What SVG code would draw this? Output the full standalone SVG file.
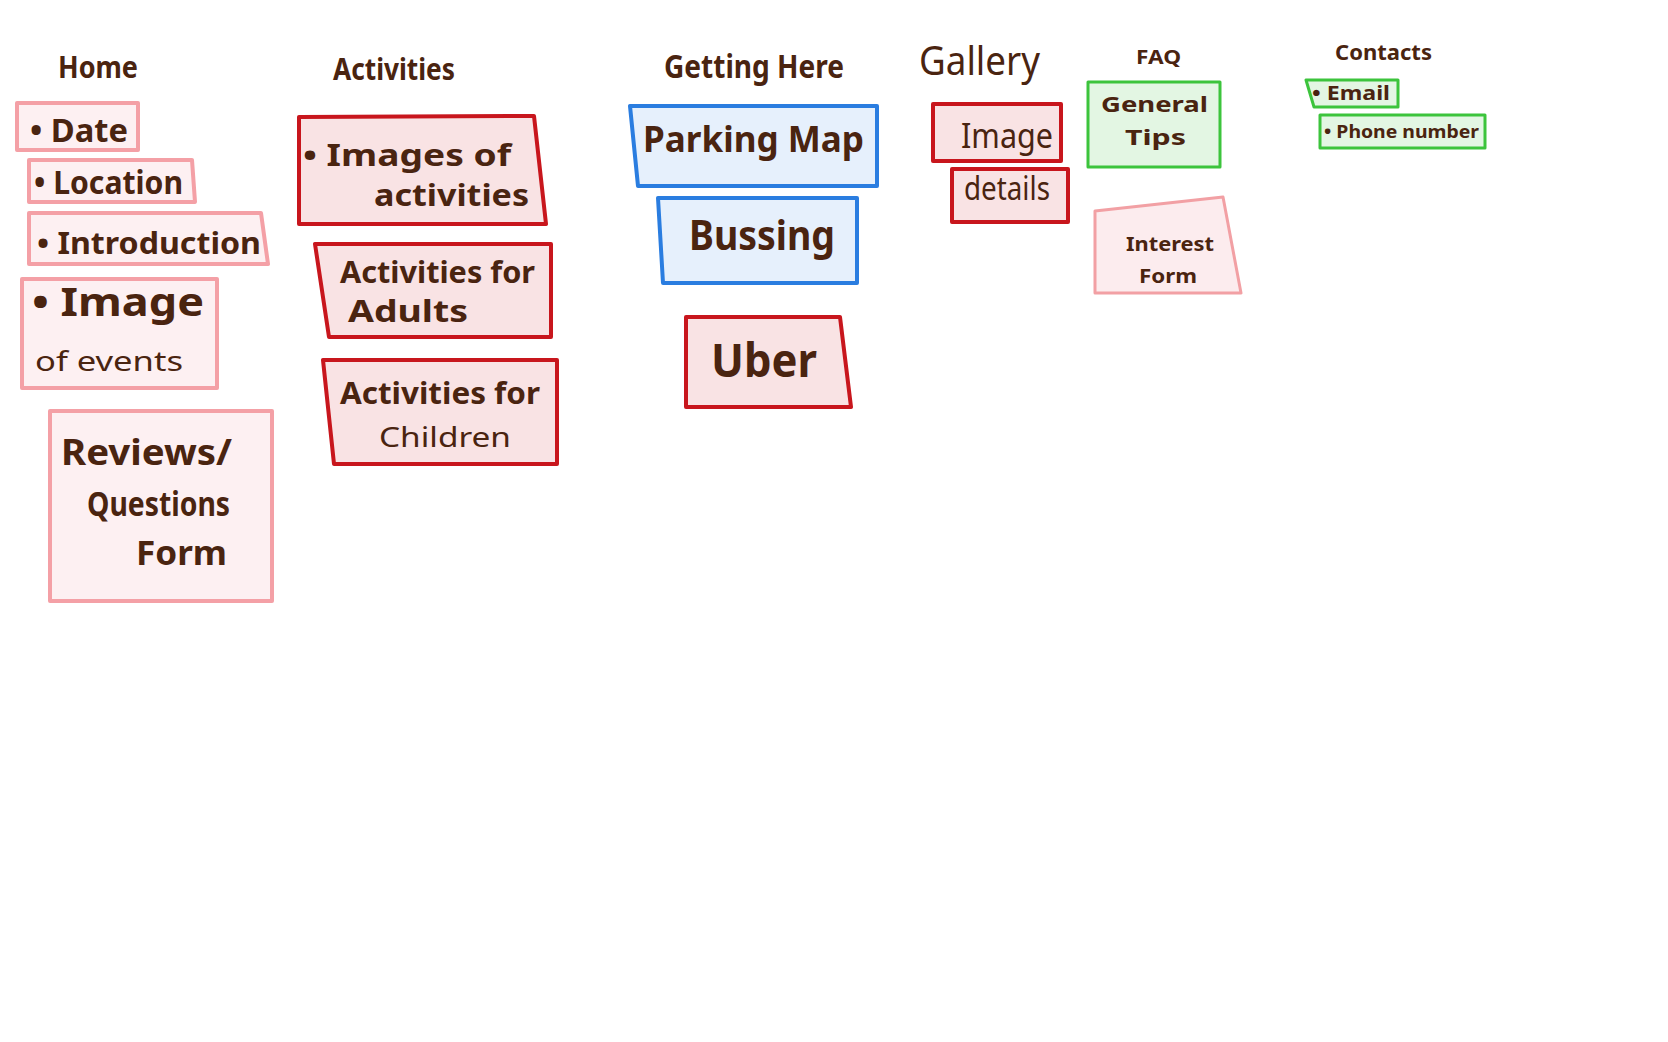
<svg xmlns="http://www.w3.org/2000/svg" width="1668" height="1042" viewBox="0 0 1668 1042">
<style>
  .pink { fill: #fdf0f2; stroke: #f4a0a6; stroke-width: 4; stroke-linejoin: round; }
  .red { fill: #f9e3e4; stroke: #c8161d; stroke-width: 4; stroke-linejoin: round; }
  .blue { fill: #e6f0fc; stroke: #2a7de0; stroke-width: 4; stroke-linejoin: round; }
  .green { fill: #e3f6e3; stroke: #3cc43c; stroke-width: 3; stroke-linejoin: round; }
  text { font-family: "Noto Sans", "Liberation Sans", sans-serif; fill: #4a2410; }
  .b { font-weight: bold; }
  .t { font-weight: normal; }
</style>
<rect width="1668" height="1042" fill="#ffffff"/>

<g id="home">
  <text x="58" y="78" font-size="30" class="b" textLength="80" lengthAdjust="spacingAndGlyphs">Home</text>
  <g id="home-date">
    <rect class="pink" x="17" y="103" width="121" height="47"/>
    <text x="30" y="142" font-size="32" class="b" textLength="98" lengthAdjust="spacingAndGlyphs">• Date</text>
  </g>
  <g id="home-location">
    <polygon class="pink" points="29,160 192,160 195,202 29,202"/>
    <text x="34" y="194" font-size="32" class="b" textLength="149" lengthAdjust="spacingAndGlyphs">• Location</text>
  </g>
  <g id="home-introduction">
    <polygon class="pink" points="29,213 261,213 268,264 29,264"/>
    <text x="37" y="254" font-size="31" class="b" textLength="224" lengthAdjust="spacingAndGlyphs">• Introduction</text>
  </g>
  <g id="home-image">
    <rect class="pink" x="22" y="279" width="195" height="109"/>
    <text x="32" y="316" font-size="40" class="b" textLength="172" lengthAdjust="spacingAndGlyphs">• Image</text>
    <text x="35" y="371" font-size="28" class="t" textLength="148" lengthAdjust="spacingAndGlyphs">of events</text>
  </g>
  <g id="home-reviews">
    <rect class="pink" x="50" y="411" width="222" height="190"/>
    <text x="61" y="465" font-size="36" class="b" textLength="171" lengthAdjust="spacingAndGlyphs">Reviews/</text>
    <text x="87" y="516" font-size="34" class="b" textLength="143" lengthAdjust="spacingAndGlyphs">Questions</text>
    <text x="136" y="565" font-size="34" class="b" textLength="91" lengthAdjust="spacingAndGlyphs">Form</text>
  </g>
</g>

<g id="activities">
  <text x="333" y="80" font-size="30" class="b" textLength="122" lengthAdjust="spacingAndGlyphs">Activities</text>
  <g id="act-images">
    <polygon class="red" points="299,117 534,116 546,224 299,224"/>
    <text x="303" y="166" font-size="30" class="b" textLength="208" lengthAdjust="spacingAndGlyphs">• Images of</text>
    <text x="374" y="206" font-size="30" class="b" textLength="155" lengthAdjust="spacingAndGlyphs">activities</text>
  </g>
  <g id="act-adults">
    <polygon class="red" points="315,244 551,244 551,337 329,337"/>
    <text x="340" y="283" font-size="30" class="b" textLength="195" lengthAdjust="spacingAndGlyphs">Activities for</text>
    <text x="348" y="322" font-size="30" class="b" textLength="120" lengthAdjust="spacingAndGlyphs">Adults</text>
  </g>
  <g id="act-children">
    <polygon class="red" points="323,360 557,360 557,464 334,464"/>
    <text x="340" y="404" font-size="30" class="b" textLength="200" lengthAdjust="spacingAndGlyphs">Activities for</text>
    <text x="379" y="447" font-size="28" class="t" textLength="132" lengthAdjust="spacingAndGlyphs">Children</text>
  </g>
</g>

<g id="getting-here">
  <text x="664" y="78" font-size="32" class="b" textLength="180" lengthAdjust="spacingAndGlyphs">Getting Here</text>
  <g id="gh-parking">
    <polygon class="blue" points="630,106 877,106 877,186 638,186"/>
    <text x="643" y="152" font-size="36" class="b" textLength="221" lengthAdjust="spacingAndGlyphs">Parking Map</text>
  </g>
  <g id="gh-bussing">
    <polygon class="blue" points="658,198 857,198 857,283 663,283"/>
    <text x="689" y="250" font-size="42" class="b" textLength="146" lengthAdjust="spacingAndGlyphs">Bussing</text>
  </g>
  <g id="gh-uber">
    <polygon class="red" points="686,317 840,317 851,407 686,407"/>
    <text x="711" y="377" font-size="46" class="b" textLength="106" lengthAdjust="spacingAndGlyphs">Uber</text>
  </g>
</g>

<g id="gallery">
  <text x="919" y="75" font-size="40" class="t" textLength="121" lengthAdjust="spacingAndGlyphs">Gallery</text>
  <g id="gal-image">
    <rect class="red" x="933" y="104" width="128" height="57"/>
    <text x="961" y="148" font-size="34" class="t" textLength="92" lengthAdjust="spacingAndGlyphs">Image</text>
  </g>
  <g id="gal-details">
    <rect class="red" x="952" y="169" width="116" height="53"/>
    <text x="964" y="200" font-size="32" class="t" textLength="86" lengthAdjust="spacingAndGlyphs">details</text>
  </g>
</g>

<g id="faq">
  <text x="1136" y="64" font-size="20" class="b" textLength="45" lengthAdjust="spacingAndGlyphs">FAQ</text>
  <g id="faq-tips">
    <rect class="green" x="1088" y="82" width="132" height="85"/>
    <text x="1101" y="112" font-size="22" class="b" textLength="107" lengthAdjust="spacingAndGlyphs">General</text>
    <text x="1125" y="145" font-size="22" class="b" textLength="61" lengthAdjust="spacingAndGlyphs">Tips</text>
  </g>
  <g id="faq-interest">
    <polygon points="1095,211 1223,197 1241,293 1095,293" style="fill:#fcecee;stroke:#f2a0a4;stroke-width:3;stroke-linejoin:round"/>
    <text x="1126" y="251" font-size="20" class="b" textLength="88" lengthAdjust="spacingAndGlyphs">Interest</text>
    <text x="1139" y="283" font-size="20" class="b" textLength="58" lengthAdjust="spacingAndGlyphs">Form</text>
  </g>
</g>

<g id="contacts">
  <text x="1335" y="60" font-size="22" class="b" textLength="97" lengthAdjust="spacingAndGlyphs">Contacts</text>
  <g id="con-email">
    <polygon class="green" points="1306,80 1398,80 1398,107 1314,107"/>
    <text x="1312" y="100" font-size="19" class="b" textLength="78" lengthAdjust="spacingAndGlyphs">• Email</text>
  </g>
  <g id="con-phone">
    <rect class="green" x="1320" y="115" width="165" height="33"/>
    <text x="1324" y="138" font-size="18" class="b" textLength="155" lengthAdjust="spacingAndGlyphs">• Phone number</text>
  </g>
</g>

<g id="connectors"></g>
</svg>
